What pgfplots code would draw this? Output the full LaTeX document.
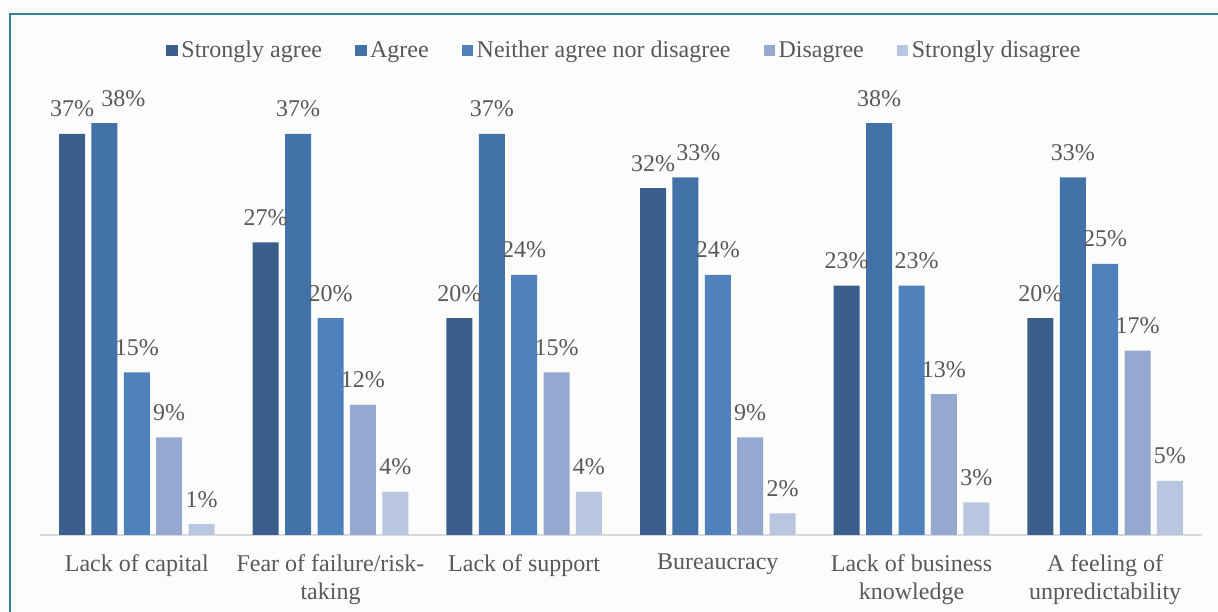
\documentclass[border=0pt]{standalone}
\usepackage{fontspec}
\setmainfont{Liberation Serif}
\usepackage{pgfplots}
\usepackage{pgfplotstable}
\pgfplotsset{compat=1.18}
\definecolor{bgcol}{RGB}{252,253,250}
\definecolor{framecol}{RGB}{49,133,155}
\definecolor{labelgray}{RGB}{89,89,89}
\definecolor{axisgray}{RGB}{217,217,217}
\definecolor{csa}{RGB}{58,95,141}
\definecolor{ca}{RGB}{67,114,168}
\definecolor{cn}{RGB}{79,129,189}
\definecolor{cd}{RGB}{149,168,208}
\definecolor{csd}{RGB}{185,198,224}
\newcommand\chartfont{\fontsize{24pt}{28pt}\selectfont}

\pgfplotstableread{
x y dx
0 37 0
1 27 0
2 20 0
3 32 0
4 23 0
5 20 0
}\sa
\pgfplotstableread{
x y dx
0 38 19
1 37 0
2 37 0
3 33 13
4 38 0
5 33 0
}\ag
\pgfplotstableread{
x y dx
0 15 0
1 20 0
2 24 0
3 24 0
4 23 5
5 25 0
}\ne
\pgfplotstableread{
x y dx
0 9 0
1 12 0
2 15 0
3 9 0
4 13 0
5 17 0
}\di
\pgfplotstableread{
x y dx
0 1 0
1 4 0
2 4 0
3 2 0
4 3 0
5 5 0
}\sd

\begin{document}
\begin{tikzpicture}
\path[use as bounding box, fill=bgcol] (0pt,0pt) rectangle (1218pt,612pt);
\draw[framecol, line width=2pt] (10pt,0pt) -- (10pt,598pt) -- (1219pt,598pt);
\begin{axis}[
  at={(40pt,77pt)}, anchor=south west,
  scale only axis, width=1162pt, height=433.6pt,
  ybar=6.4pt, bar width=26pt,
  xmin=-0.5, xmax=5.5, ymin=0, ymax=40,
  axis x line=bottom, axis y line=none,
  x axis line style={color=axisgray, line width=1.5pt, -},
  xtick={0,1,2,3,4,5},
  xticklabels={Lack of capital,{Fear of failure/risk-\\taking},Lack of support,Bureaucracy,{Lack of business\\knowledge},{A feeling of\\unpredictability}},
  xtick style={draw=none},
  major tick length=0pt,
  xticklabel style={align=center, font=\chartfont, text=labelgray, inner sep=0pt, anchor=north, yshift=-19pt},
  visualization depends on={\thisrow{dx} \as \dx},
  nodes near coords={\pgfmathprintnumber{\pgfplotspointmeta}\%},
  nodes near coords style={anchor=base, inner sep=0pt, yshift=17pt, xshift=\dx pt, font=\chartfont, text=labelgray, /pgf/number format/assume math mode=true},
  legend columns=5,
  legend style={at={(0.503,1.1185)}, anchor=center, draw=none, fill=none, font=\chartfont, text=labelgray,
    /tikz/every even column/.append style={column sep=31pt}},
  legend image code/.code={\fill[#1,draw=none] (0pt,-6pt) rectangle (11.5pt,5.5pt); \path (0pt,0pt) -- (13pt,0pt);},
]
\addplot[fill=csa, draw=none] table[x=x,y=y] {\sa};
\addlegendentry{Strongly agree}
\addplot[fill=ca, draw=none] table[x=x,y=y] {\ag};
\addlegendentry{Agree}
\addplot[fill=cn, draw=none] table[x=x,y=y] {\ne};
\addlegendentry{Neither agree nor disagree}
\addplot[fill=cd, draw=none] table[x=x,y=y] {\di};
\addlegendentry{Disagree}
\addplot[fill=csd, draw=none] table[x=x,y=y] {\sd};
\addlegendentry{Strongly disagree}
\end{axis}
\end{tikzpicture}
\end{document}
